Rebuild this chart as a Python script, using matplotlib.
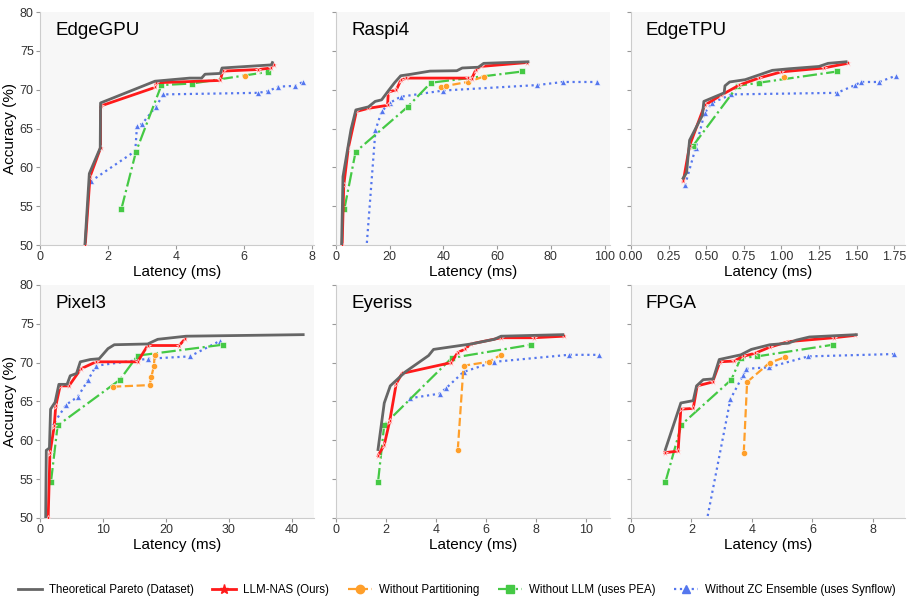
import matplotlib
matplotlib.use("Agg")
import matplotlib.pyplot as plt
from matplotlib.lines import Line2D

plt.rcParams['font.family'] = ['Liberation Sans', 'DejaVu Sans']

# --- dane: (latenta ms, acuratete %) ---
edgegpu_pareto = [(1.32, 50), (1.45, 59.2), (1.77, 62.5), (1.78, 68.3), (3.38, 71.1), (4.4, 71.5),
                  (4.75, 71.5), (4.85, 72.0), (5.3, 72.1), (5.35, 72.8), (6.8, 73.2), (6.83, 73.5)]
edgegpu_llm = [(1.33, 50), (1.47, 58.8), (1.78, 62.5), (1.78, 67.9), (3.38, 70.3), (3.42, 70.9),
               (5.3, 71.2), (5.37, 72.4), (6.4, 72.6), (6.8, 72.8), (6.88, 73.2)]
edgegpu_nopart = [(6.03, 71.75)]
edgegpu_pea = [(2.39, 54.6), (2.82, 62.0), (3.57, 70.6), (4.47, 70.8), (6.7, 72.3)]
edgegpu_synflow = [(1.49, 58.2), (2.8, 62.1), (2.85, 65.3), (3.0, 65.6), (3.4, 67.8), (3.63, 69.4),
                   (6.4, 69.6), (6.7, 69.8), (7.0, 70.4), (7.5, 70.5), (7.72, 71.0)]

raspi4_pareto = [(2.1, 50), (2.6, 58.8), (4.9, 63.5), (5.6, 64.9), (7.4, 67.4), (12.1, 67.8),
                 (14.6, 68.5), (17.0, 68.7), (19.8, 70.0), (21.8, 70.9), (24.1, 71.8), (28, 72.0),
                 (35, 72.4), (45, 72.45), (47, 72.8), (53, 72.9), (55, 73.4), (71.5, 73.6)]
raspi4_llm = [(2.3, 50), (2.9, 57.7), (4.6, 62.5), (7.6, 67.2), (12, 67.6), (19.2, 68.0), (19.5, 69.7),
              (22.5, 70.0), (24.1, 71.2), (26, 71.5), (49.3, 71.5), (50.5, 71.4), (52, 72.5),
              (54, 73.0), (71, 73.5)]
raspi4_nopart = [(39.1, 70.3), (41, 70.5), (49, 71.0), (55.1, 71.7)]
raspi4_pea = [(3.1, 54.6), (7.3, 62.0), (26.7, 67.8), (35.3, 70.9), (69.4, 72.35)]
raspi4_synflow = [(11.0, 48), (14.7, 64.8), (17, 67.2), (20, 68.3),
                  (24.1, 69.1), (40, 69.9), (74.9, 70.6), (84.5, 71.0), (97.2, 71.0)]

edgetpu_pareto = [(0.347, 58.6), (0.37, 59.3), (0.39, 63.5), (0.475, 66.7), (0.485, 68.5), (0.62, 69.6),
                  (0.625, 70.5), (0.656, 71.0), (0.76, 71.3), (0.94, 72.5), (1.05, 72.7), (1.25, 73.0),
                  (1.31, 73.4), (1.43, 73.6)]
edgetpu_llm = [(0.348, 58.2), (0.39, 62.8), (0.49, 68.0), (0.6, 69.3), (0.72, 70.6), (0.85, 71.5),
               (1.0, 72.3), (1.28, 72.8), (1.44, 73.4)]
edgetpu_nopart = [(1.02, 71.6)]
edgetpu_pea = [(0.41, 62.7), (0.71, 70.5), (0.85, 70.9), (1.37, 72.35)]
edgetpu_synflow = [(0.36, 57.7), (0.43, 62.5), (0.49, 67.0), (0.54, 68.3), (0.667, 69.4),
                   (1.37, 69.6), (1.49, 70.6), (1.53, 71.0), (1.65, 71.0), (1.76, 71.8)]

pixel3_pareto = [(0.9, 50), (1.0, 58.7), (1.5, 59.0), (1.68, 64.0), (2.4, 64.9), (3.0, 67.2),
                 (4.3, 67.2), (4.8, 68.3), (5.8, 68.6), (6.4, 70.1), (8.0, 70.4), (9.4, 70.5),
                 (10.8, 71.8), (11.8, 72.3), (17.1, 72.4), (18.7, 73.0), (23.2, 73.4), (41.8, 73.6)]
pixel3_llm = [(1.3, 50), (1.58, 58.3), (2.26, 61.8), (2.5, 64.4), (3.2, 67.0), (4.6, 67.0),
              (6.5, 69.2), (8.9, 70.1), (15.5, 70.1), (17.1, 72.2), (22.1, 72.2), (23.1, 73.1)]
pixel3_nopart = [(11.6, 66.9), (17.4, 67.1), (17.7, 68.2), (18.1, 69.6), (18.2, 71.0)]
pixel3_pea = [(1.74, 54.6), (2.8, 61.9), (12.7, 67.8), (15.5, 70.9), (29.0, 72.3)]
pixel3_synflow = [(2.3, 62.3), (4.2, 64.6), (6.0, 65.6), (7.6, 67.7), (8.9, 69.6), (17.2, 70.5),
                  (23.8, 70.8), (28.6, 72.8)]

eyeriss_pareto = [(1.68, 58.8), (1.93, 64.8), (2.17, 67.0), (2.77, 68.8), (3.7, 70.9), (3.9, 71.7),
                  (5.4, 72.4), (6.33, 73.0), (6.6, 73.4), (9.07, 73.6)]
eyeriss_llm = [(1.68, 58.0), (1.93, 59.4), (2.15, 62.5), (2.41, 67.3), (2.64, 68.6), (4.6, 70.0),
               (4.87, 71.3), (5.14, 71.7), (5.4, 72.4), (6.6, 73.2), (7.9, 73.2), (9.1, 73.4)]
eyeriss_nopart = [(4.87, 58.8), (5.1, 69.6), (6.1, 70.1), (6.6, 71.0)]
eyeriss_pea = [(1.68, 54.6), (1.93, 62.0), (4.63, 70.6), (7.8, 72.3)]
eyeriss_synflow = [(2.94, 65.4), (4.14, 66.0), (4.4, 66.7), (5.1, 68.8), (6.33, 70.1), (9.3, 71.0),
                   (10.53, 71.0)]

fpga_pareto = [(1.14, 58.8), (1.65, 64.8), (2.06, 65.1), (2.17, 67.0), (2.39, 67.8), (2.72, 67.9),
               (2.92, 70.4), (3.63, 71.0), (3.98, 71.7), (4.59, 72.3), (5.2, 72.5), (5.47, 72.9),
               (5.9, 73.3), (7.45, 73.6)]
fpga_llm = [(1.12, 58.4), (1.56, 58.6), (1.65, 64.0), (2.06, 64.1), (2.19, 67.0), (2.7, 67.5),
            (2.94, 70.1), (3.41, 70.2), (3.7, 70.8), (4.1, 71.2), (4.6, 72.0), (5.2, 72.7),
            (6.7, 73.2), (7.4, 73.5)]
fpga_nopart = [(3.73, 58.4), (3.84, 67.5), (4.59, 70.0), (5.1, 70.7)]
fpga_pea = [(1.14, 54.6), (1.67, 62.0), (3.32, 67.8), (3.63, 70.6), (4.17, 70.8), (6.68, 72.3)]
fpga_synflow = [(2.5, 49.5), (3.29, 65.3), (3.71, 68.4), (3.82, 69.2),
                (4.57, 69.4), (5.86, 70.8), (8.68, 71.1)]

devices = ["EdgeGPU", "Raspi4", "EdgeTPU", "Pixel3", "Eyeriss", "FPGA"]
pareto = [edgegpu_pareto, raspi4_pareto, edgetpu_pareto, pixel3_pareto, eyeriss_pareto, fpga_pareto]
llm_nas = [edgegpu_llm, raspi4_llm, edgetpu_llm, pixel3_llm, eyeriss_llm, fpga_llm]
no_part = [edgegpu_nopart, raspi4_nopart, edgetpu_nopart, pixel3_nopart, eyeriss_nopart, fpga_nopart]
no_llm = [edgegpu_pea, raspi4_pea, edgetpu_pea, pixel3_pea, eyeriss_pea, fpga_pea]
no_zc = [edgegpu_synflow, raspi4_synflow, edgetpu_synflow, pixel3_synflow, eyeriss_synflow, fpga_synflow]

x_limits = [(0, 8.05), (0, 102), (0, 1.82), (0, 43.5), (0, 10.95), (0, 9.05)]
x_ticks = [[0, 2, 4, 6, 8], [0, 20, 40, 60, 80, 100], [0, 0.25, 0.5, 0.75, 1.0, 1.25, 1.5, 1.75],
           [0, 10, 20, 30, 40], [0, 2, 4, 6, 8, 10], [0, 2, 4, 6, 8]]

methods = [
    ("Theoretical Pareto (Dataset)", pareto, dict(color='#666666', ls='-', lw=2.0, marker=None)),
    ("LLM-NAS (Ours)", llm_nas, dict(color='#ff1a1a', ls='-', lw=2.0, marker='*', ms=5)),
    ("Without Partitioning", no_part, dict(color='#ff9f2a', ls='--', lw=1.6, marker='o', ms=4.5)),
    ("Without LLM (uses PEA)", no_llm, dict(color='#45c945', ls='-.', lw=1.6, marker='s', ms=4.5)),
    ("Without ZC Ensemble (uses Synflow)", no_zc, dict(color='#5577ee', ls=':', lw=1.6, marker='^', ms=4.5)),
]

fig = plt.figure(figsize=(9.13, 6.05), dpi=100)
lefts = [0.0438, 0.368, 0.691]
bottoms = [0.595, 0.144]
w, h = 0.300, 0.385

for i, dev in enumerate(devices):
    r, c = divmod(i, 3)
    ax = fig.add_axes([lefts[c], bottoms[r], w, h])
    ax.set_facecolor('#f7f7f7')
    # trasam in ordine inversa ca Pareto sa fie deasupra
    for label, series, style in reversed(methods):
        pts = series[i]
        xs = [p[0] for p in pts]
        ys = [p[1] for p in pts]
        ax.plot(xs, ys, color=style['color'], ls=style['ls'], lw=style['lw'],
                marker=style['marker'], ms=style.get('ms', 0),
                markeredgecolor='white', markeredgewidth=0.4, zorder=3)
    ax.set_xlim(*x_limits[i])
    ax.set_ylim(50, 80)
    ax.set_xticks(x_ticks[i])
    ax.set_yticks([50, 55, 60, 65, 70, 75, 80])
    if i == 2:
        ax.set_xticklabels(['0.00', '0.25', '0.50', '0.75', '1.00', '1.25', '1.50', '1.75'])
    for s in ['top', 'right']:
        ax.spines[s].set_visible(False)
    for s in ['left', 'bottom']:
        ax.spines[s].set_color('#cccccc')
    ax.tick_params(colors='#333333', labelsize=9, length=3, width=0.8, pad=1.5)
    ax.tick_params(axis='both', color='#999999')
    if c == 0:
        ax.set_ylabel("Accuracy (%)", fontsize=11, labelpad=2)
    else:
        ax.tick_params(axis='y', labelleft=False)
    ax.set_xlabel("Latency (ms)", fontsize=11, labelpad=1)
    ax.text(0.055, 0.92, dev, transform=ax.transAxes, fontsize=13.5, va='center', ha='left')

handles = [Line2D([0], [0], color=st['color'], ls=st['ls'], lw=st['lw'], marker=st['marker'],
                  ms=st.get('ms', 0) + 1.5, markeredgecolor=st['color'])
           for _, _, st in methods]
labels = [m[0] for m in methods]
fig.legend(handles, labels, loc='center', bbox_to_anchor=(0.5, 0.025), ncol=5, frameon=False,
           fontsize=8.3, handlelength=2.1, columnspacing=1.6, handletextpad=0.6)

plt.savefig("out.png", dpi=100)
plt.close()
